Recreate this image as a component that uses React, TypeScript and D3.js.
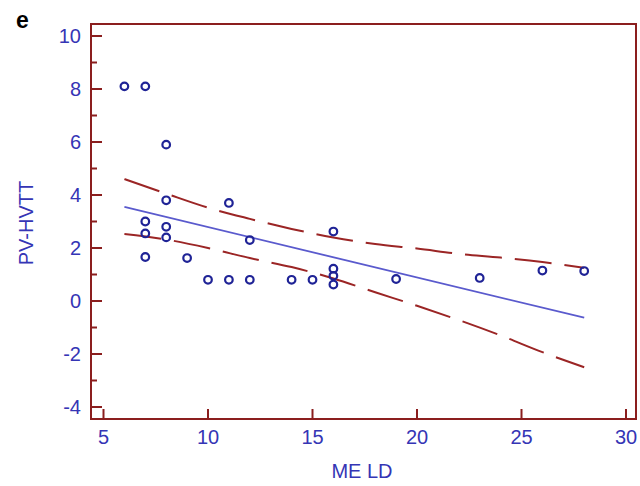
import React from "react";
import * as d3 from "d3";

const meld = [6, 7, 7, 7, 7, 8, 8, 8, 8, 9, 10, 11, 11, 12, 12, 14, 15, 16, 16, 16, 16, 19, 23, 26, 28];
const pvhvtt = [8.1, 8.1, 3.0, 2.55, 1.66, 5.9, 3.8, 2.8, 2.4, 1.62, 0.8, 3.7, 0.8, 2.3, 0.8, 0.8, 0.8, 2.62, 1.22, 0.95, 0.62, 0.83, 0.87, 1.15, 1.13];

const fitX = [6, 28];
const fitY = [3.55, -0.63];

const bandX = [6, 8, 10, 12, 14, 16, 18, 20, 22, 24, 26, 28];
const upperBand = [4.6, 4.05, 3.52, 3.1, 2.72, 2.4, 2.15, 1.98, 1.78, 1.64, 1.47, 1.25];
const lowerBand = [2.53, 2.32, 2.0, 1.62, 1.28, 0.85, 0.33, -0.18, -0.72, -1.3, -1.93, -2.5];

const xTicks = [5, 10, 15, 20, 25, 30];
const yMajorTicks = [-4, -2, 0, 2, 4, 6, 8, 10];
const yMinorTicks = [-3, -1, 1, 3, 5, 7, 9];

export default function App() {
  const left = 91, right = 636, top = 24, bottom = 419;
  const x = d3.scaleLinear().domain([5, 30]).range([103.5, 626]);
  const y = d3.scaleLinear().domain([-4, 10]).range([407, 36]);
  const axisColor = "#8B1E1E";
  const labelColor = "#3535B5";
  const ptColor = "#1F2396";
  const font = "Liberation Sans, Arial, sans-serif";
  const fs = 20;

  const line = d3.line<[number, number]>().x(d => x(d[0])).y(d => y(d[1])).curve(d3.curveMonotoneX);
  const upper = line(bandX.map((v, i) => [v, upperBand[i]] as [number, number]));
  const lower = line(bandX.map((v, i) => [v, lowerBand[i]] as [number, number]));
  const fit = d3.line<[number, number]>().x(d => x(d[0])).y(d => y(d[1]))(fitX.map((v, i) => [v, fitY[i]] as [number, number]));

  return (
    <svg width={640} height={486} style={{ position: "absolute", left: 0, top: 0 }} fontFamily={font}>
      <rect x={0} y={0} width={640} height={486} fill="#fff" />
      <text x={16} y={28} fontSize={23} fontWeight="bold" fill="#000">e</text>
      <rect x={left} y={top} width={right - left} height={bottom - top} fill="none" stroke={axisColor} strokeWidth={2} />
      {yMajorTicks.map(t => (
        <g key={"ym" + t}>
          <line x1={left} x2={left + 11} y1={y(t)} y2={y(t)} stroke={axisColor} strokeWidth={2} />
          <text x={81} y={y(t)} dy="0.36em" textAnchor="end" fontSize={fs} fill={labelColor}>{t}</text>
        </g>
      ))}
      {yMinorTicks.map(t => (
        <line key={"yn" + t} x1={left} x2={left + 6} y1={y(t)} y2={y(t)} stroke={axisColor} strokeWidth={2} />
      ))}
      {xTicks.map(t => (
        <g key={"x" + t}>
          <line x1={x(t)} x2={x(t)} y1={bottom} y2={bottom - 10} stroke={axisColor} strokeWidth={2} />
          <text x={x(t)} y={444} textAnchor="middle" fontSize={fs} fill={labelColor}>{t}</text>
        </g>
      ))}
      <text x={362} y={478} textAnchor="middle" fontSize={fs} fill={labelColor}>ME LD</text>
      <text transform="translate(33,223) rotate(-90)" textAnchor="middle" fontSize={fs} fill={labelColor}>PV-HVTT</text>
      <path d={upper ?? ""} fill="none" stroke="#9B2525" strokeWidth={2} strokeDasharray="37 13" />
      <path d={lower ?? ""} fill="none" stroke="#9B2525" strokeWidth={2} strokeDasharray="37 13" />
      <path d={fit ?? ""} fill="none" stroke="#5A5ACD" strokeWidth={1.8} />
      {meld.map((m, i) => (
        <circle key={i} cx={x(m)} cy={y(pvhvtt[i])} r={3.8} fill="none" stroke={ptColor} strokeWidth={2.2} />
      ))}
    </svg>
  );
}
